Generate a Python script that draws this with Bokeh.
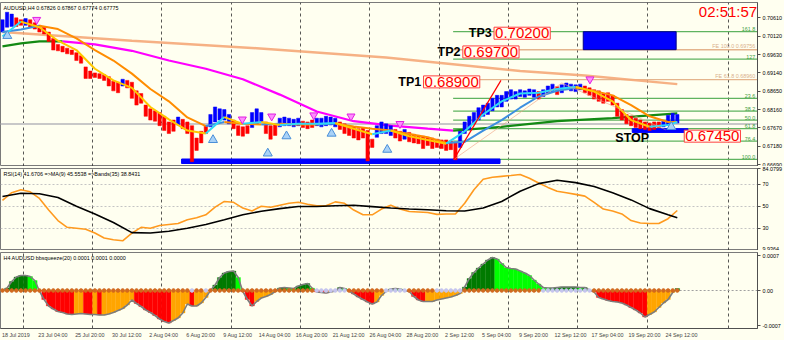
from bokeh.plotting import figure
from bokeh.models import Range1d, FixedTicker, Label, Span, Grid, CustomJSTickFormatter
from bokeh.layouts import column
from bokeh.embed import file_html
from bokeh.resources import INLINE
from bokeh.core.properties import value

BG = "#FFFFF0"
FONT = "Liberation Sans"
FS = "5.4px"

# ---------------- data (x = H4 bar index, 0 = 18 Jul 2019) ----------------
BAR_X = list(range(0, 293, 2))
HI = [0.7056, 0.7076, 0.7071, 0.7061, 0.7056, 0.7059, 0.7056, 0.7048, 0.7041, 0.7036,
      0.7023, 0.7006, 0.6990, 0.6985, 0.6980, 0.6975, 0.6968, 0.6960, 0.6930, 0.6919,
      0.6914, 0.6912, 0.6909, 0.6904, 0.6892, 0.6889, 0.6897, 0.6894, 0.6889, 0.6866,
      0.6859, 0.6828, 0.6818, 0.6813, 0.6808, 0.6798, 0.6783, 0.6788, 0.6796, 0.6790,
      0.6783, 0.6773, 0.6740, 0.6758, 0.6773, 0.6803, 0.6823, 0.6818, 0.6816, 0.6803,
      0.6788, 0.6773, 0.6770, 0.6773, 0.6808, 0.6818, 0.6808, 0.6783, 0.6773, 0.6778,
      0.6793, 0.6796, 0.6793, 0.6790, 0.6793, 0.6785, 0.6783, 0.6788, 0.6793, 0.6793,
      0.6798, 0.6796, 0.6793, 0.6783, 0.6778, 0.6773, 0.6770, 0.6765, 0.6768, 0.6760,
      0.6737, 0.6773, 0.6783, 0.6778, 0.6773, 0.6763, 0.6758, 0.6763, 0.6755, 0.6750,
      0.6747, 0.6745, 0.6742, 0.6740, 0.6737, 0.6735, 0.6735, 0.6732, 0.6727, 0.6758,
      0.6783, 0.6798, 0.6808, 0.6821, 0.6828, 0.6833, 0.6846, 0.6854, 0.6854, 0.6864,
      0.6869, 0.6864, 0.6869, 0.6866, 0.6871, 0.6869, 0.6864, 0.6869, 0.6879, 0.6884,
      0.6877, 0.6882, 0.6887, 0.6884, 0.6882, 0.6884, 0.6879, 0.6874, 0.6869, 0.6866,
      0.6859, 0.6861, 0.6854, 0.6833, 0.6816, 0.6803, 0.6798, 0.6793, 0.6788, 0.6783,
      0.6780, 0.6783, 0.6783, 0.6785, 0.6801, 0.6806, 0.6803]
LO = [0.7023, 0.7036, 0.7038, 0.7038, 0.7041, 0.7041, 0.7036, 0.7031, 0.7023, 0.7018,
      0.6998, 0.6975, 0.6973, 0.6970, 0.6965, 0.6963, 0.6947, 0.6940, 0.6899, 0.6899,
      0.6902, 0.6899, 0.6894, 0.6879, 0.6866, 0.6861, 0.6879, 0.6874, 0.6846, 0.6828,
      0.6833, 0.6798, 0.6788, 0.6785, 0.6773, 0.6760, 0.6752, 0.6758, 0.6775, 0.6765,
      0.6752, 0.6677, 0.6707, 0.6727, 0.6752, 0.6770, 0.6783, 0.6788, 0.6788, 0.6778,
      0.6765, 0.6747, 0.6745, 0.6752, 0.6768, 0.6778, 0.6783, 0.6752, 0.6737, 0.6747,
      0.6770, 0.6773, 0.6773, 0.6770, 0.6773, 0.6768, 0.6765, 0.6768, 0.6773, 0.6770,
      0.6773, 0.6775, 0.6770, 0.6763, 0.6752, 0.6747, 0.6740, 0.6735, 0.6740, 0.6679,
      0.6715, 0.6742, 0.6752, 0.6752, 0.6747, 0.6740, 0.6732, 0.6737, 0.6730, 0.6727,
      0.6725, 0.6712, 0.6720, 0.6712, 0.6715, 0.6712, 0.6707, 0.6709, 0.6682, 0.6715,
      0.6752, 0.6763, 0.6778, 0.6788, 0.6798, 0.6803, 0.6813, 0.6823, 0.6823, 0.6838,
      0.6844, 0.6844, 0.6851, 0.6849, 0.6854, 0.6849, 0.6844, 0.6851, 0.6859, 0.6864,
      0.6856, 0.6861, 0.6869, 0.6866, 0.6864, 0.6869, 0.6861, 0.6854, 0.6844, 0.6838,
      0.6833, 0.6838, 0.6828, 0.6798, 0.6788, 0.6778, 0.6773, 0.6768, 0.6765, 0.6763,
      0.6760, 0.6763, 0.6768, 0.6770, 0.6775, 0.6783, 0.6780]
# B = up-trend bar (blue), R = down-trend bar (red)
BAR_DIR = ("BBBRRBRRRR" "RRRRRRRRRR" "RRRRRRBRRR" "RRRRRRRRBR" "RRRRRBBBBB"
           "RRRRBBBRRR" "BBBBBRRRBB" "BBBRRRRRRR" "RBBBBRRBRR" "RRRRRRRRRB"
           "BBBBBBBBBB" "BBBBBBRBBB" "RBBBBBRRRR" "RRRRRRRRRR" "RRRBBBB")

MA_X = list(range(0, 289, 8)) + [292]
# fast MA (cyan rising / yellow falling), slow MA (blue rising / orange falling)
MA_FAST = [0.7011, 0.7051, 0.7036, 0.7000, 0.6975, 0.6925, 0.6894, 0.6874, 0.6823, 0.6790,
           0.6760, 0.6752, 0.6796, 0.6778, 0.6783, 0.6775, 0.6778, 0.6778, 0.6780, 0.6765,
           0.6750, 0.6760, 0.6745, 0.6735, 0.6725, 0.6758, 0.6803, 0.6838, 0.6859, 0.6861,
           0.6871, 0.6877, 0.6864, 0.6838, 0.6788, 0.6770, 0.6775, 0.6783]
MA_SLOW = [0.7023, 0.7030, 0.7040, 0.7031, 0.7006, 0.6975, 0.6947, 0.6912, 0.6871, 0.6838,
           0.6795, 0.6772, 0.6783, 0.6778, 0.6776, 0.6778, 0.6776, 0.6776, 0.6779, 0.6771,
           0.6765, 0.6760, 0.6751, 0.6742, 0.6727, 0.6730, 0.6760, 0.6788, 0.6821, 0.6851,
           0.6866, 0.6874, 0.6866, 0.6854, 0.6828, 0.6798, 0.6783, 0.6783]
LMA_X = [0, 8, 16, 26, 40, 56, 72, 88, 104, 120, 136, 152, 168, 184, 195, 216, 240, 264, 292]
LMA_Y = [0.6985, 0.6993, 0.6998, 0.6998, 0.6990, 0.6973, 0.6947, 0.6925, 0.6897, 0.6856,
         0.6811, 0.6785, 0.6773, 0.6765, 0.6760, 0.6770, 0.6785, 0.6793, 0.6806]
SMA_X = [0, 56, 110, 166, 224, 252, 292]
SMA_Y = [0.7023, 0.7000, 0.6980, 0.6955, 0.6919, 0.6907, 0.6884]

BUY_X = [2.1, 91.1, 114.8, 122.9, 142.4, 166.5, 289.4]
BUY_Y = [0.7013, 0.6735, 0.6699, 0.6745, 0.6752, 0.6709, 0.6770]
SELL_X = [14.8, 103.8, 116.5, 134.7, 150.8, 172.0, 254.2]
SELL_Y = [0.7056, 0.6790, 0.6798, 0.6801, 0.6798, 0.6778, 0.6897]

FIB_START = 195
FIB_LEVELS = [0.7024, 0.6951, 0.6846, 0.6812, 0.6788, 0.6765, 0.6732, 0.6683]
FIB_TEXT = ["161.8", "127", "23.6", "38.2", "50.0", "61.8", "76.4", "100.0"]
FE_LEVELS = [0.6976, 0.6896]
FE_TEXT = ["FE 100.0 0.69756", "FE 61.8 0.68960"]

TP_NAMES = ["TP1", "TP2", "TP3"]
TP_PRICES = [0.68900, 0.69700, 0.70200]
TP_X = [182.2, 199.2, 212.7]
STOP_PRICE = 0.67450
STOP_X = 295.0
LAST_PRICE = 0.67775
CLOCK = "02:51:57"

TARGET_BOX = dict(left=251.3, right=291.5, bottom=0.6976, top=0.7024)
ZONE_BOXES = dict(left=[77.5, 272.5], right=[215.3, 296.6], bottom=[0.6672, 0.6755], top=[0.6684, 0.6765])
TREND_X = [195.3, 215.7]
TREND_Y = [0.6683, 0.6894]
ZZ_X = [195.3, 242.0, 287.0]
ZZ_Y = [0.6683, 0.6887, 0.6762]

PRICE_TICKS = [0.66690, 0.67180, 0.67670, 0.68160, 0.68650, 0.69140, 0.69630, 0.70120, 0.70610]
PRICE_LABELS = ["0.66690", "0.67180", "0.67670", "0.68160", "0.68650", "0.69140", "0.69630", "0.70120", "0.70610"]

RSI_X = list(range(0, 293, 4))
RSI = [55.2, 62.2, 64.8, 63.0, 57.0, 46.5, 37.0, 30.9, 30.0, 29.1,
       25.7, 21.3, 19.6, 18.7, 25.7, 30.9, 30.0, 32.6, 33.5, 34.3,
       37.8, 39.6, 42.2, 49.1, 54.3, 53.5, 48.3, 45.7, 50.0, 49.1,
       50.9, 52.6, 53.5, 51.7, 50.3, 50.3, 53.9, 52.6, 46.5, 42.2,
       42.2, 47.4, 50.9, 47.4, 45.2, 44.8, 44.3, 42.6, 43.0, 43.0,
       52.6, 64.8, 74.3, 76.1, 77.0, 77.8, 78.7, 75.2, 70.9, 67.0,
       63.5, 62.2, 60.7, 59.1, 53.5, 47.4, 45.7, 43.0, 37.0, 34.8,
       34.3, 34.3, 38.7, 46.1]
RSI_MA = [58.7, 61.7, 61.3, 57.8, 50.0, 43.0, 35.2, 26.1, 25.7, 27.4,
          30.0, 33.5, 37.8, 42.2, 45.4, 47.8, 49.7, 49.7, 50.4, 50.9,
          49.6, 48.3, 47.4, 46.8, 45.9, 45.7, 48.3, 54.3, 63.5, 70.4,
          73.5, 71.3, 67.8, 62.2, 55.7, 47.8, 42.2, 39.6]
RSI_MIN, RSI_MAX = 9.9364, 84.0799
RSI_TICKS = [9.9364, 30, 50, 70, 84.0799]
RSI_LABELS = ["9.9364", "30", "50", "70", "84.0799"]

# bbsqueeze histogram, units of 1e-5
SQZ_E5 = [-1, 5, 18, 27, 30, 30, 28, 20, -1, -18,
          -31, -37, -42, -44, -47, -48, -47, -46, -47, -48,
          -48, -49, -49, -47, -44, -40, -36, -29, -19, -26,
          -32, -39, -44, -50, -57, -62, -65, -60, -55, -45,
          -27, -31, -31, -25, -14, 0, 11, 26, 35, 38,
          39, 26, -2, -18, -31, -22, -15, -12, -8, -2,
          5, 6, 5, 4, 9, 12, 14, 5, -3, -4,
          -5, -3, -1, 6, 4, -1, -7, -13, -18, -23,
          -27, -23, -10, -2, 3, 4, 3, 0, -2, -12,
          -19, -22, -22, -22, -19, -17, -15, -13, -10, -6,
          7, 24, 36, 45, 53, 61, 66, 63, 54, 46,
          44, 43, 39, 35, 30, 21, 13, 6, 5, 5,
          6, 7, 7, 7, 7, 6, 6, 1, -3, -14,
          -17, -20, -22, -23, -25, -29, -34, -39, -45, -53,
          -48, -43, -34, -25, -18, -4, 4]
# o = squeeze on (orange dot), l = off (lavender dot)
SQZ_FLAG = "o" * 41 + "l" + "oo" + "l" + "o" * 23 + "l" * 7 + "o" * 8 + "l" * 5 + "o" * 6 + "l" * 6 + "o" * 17 + "l" * 11 + "o" * 19
SQZ_TICKS = [-0.0007, 0.0, 0.0007]
SQZ_LABELS = ["-0.0007", "0.00", "0.0007"]

TIME_IDX = list(range(0, 289, 16))
TIME_LABELS = ["18 Jul 2019", "23 Jul 04:00", "25 Jul 20:00", "30 Jul 12:00", "2 Aug 04:00",
               "6 Aug 20:00", "9 Aug 12:00", "14 Aug 04:00", "16 Aug 20:00", "21 Aug 12:00",
               "26 Aug 04:00", "28 Aug 20:00", "2 Sep 12:00", "5 Sep 04:00", "9 Sep 20:00",
               "12 Sep 12:00", "17 Sep 04:00", "19 Sep 20:00", "24 Sep 12:00"]
VGRID = [9, 39, 69, 99, 129, 159, 189, 219, 249, 279, 314]

HEAD_PRICE = "AUDUSD,H4  0.67826 0.67867 0.67774 0.67775"
HEAD_RSI = "RSI(14) 41.6706   =>MA(9) 45.5538   =>Bands(35) 38.8431"
HEAD_SQZ = "H4 AUDUSD bbsqueeze(20) 0.0001 0.0001 0.0000"

for arr in (HI, LO, SQZ_E5):
    assert len(arr) == len(BAR_X), len(arr)
assert len(BAR_DIR) == len(BAR_X) and len(SQZ_FLAG) == len(BAR_X)
for arr in (MA_FAST, MA_SLOW, RSI_MA):
    assert len(arr) == len(MA_X), len(arr)
assert len(RSI) == len(RSI_X)

X0, X1 = -0.85, 326.7
FRAME_W = 757

LOOKUP = """
let best = 0, bd = Infinity;
for (let i = 0; i < vals.length; i++) { const d = Math.abs(vals[i] - tick); if (d < bd) { bd = d; best = i; } }
return labs[best];
"""


def make_fig(fh, yr, top, xaxis=False):
    p = figure(frame_width=FRAME_W, frame_height=fh, x_range=Range1d(X0, X1), y_range=yr,
               output_backend="svg", toolbar_location=None,
               x_axis_location="below" if xaxis else None, y_axis_location="right",
               min_border_left=0, min_border_right=0, min_border_top=top, min_border_bottom=0,
               background_fill_color=BG, border_fill_color=BG,
               outline_line_color="#7a7a7a", outline_line_width=1)
    for g in p.grid:
        g.visible = False
    p.add_layout(Grid(dimension=0, ticker=FixedTicker(ticks=VGRID), grid_line_color="#3a3a3a",
                      grid_line_dash="3 3", grid_line_width=1, grid_line_alpha=0.85))
    return p


def style_yaxis(p, ticks, labels):
    ax = p.yaxis[0]
    ax.ticker = FixedTicker(ticks=ticks)
    ax.formatter = CustomJSTickFormatter(args=dict(vals=ticks, labs=labels), code=LOOKUP)
    ax.major_label_text_font_size = FS
    ax.major_label_text_font = FONT
    ax.major_label_text_color = "#000000"
    ax.major_tick_out = 3
    ax.major_tick_in = 0
    ax.minor_tick_out = 0
    ax.minor_tick_in = 0
    ax.major_label_standoff = 2
    ax.axis_line_color = "#505050"
    ax.major_tick_line_color = "#505050"


def header(p, text, y):
    p.add_layout(Label(x=X0, y=y, x_offset=3, y_offset=-2, text=text, text_baseline="top",
                       text_align="left", text_font=FONT, text_font_size=FS, text_color="#000000"))


def slope_runs(xs, ys, up_color, down_color):
    runs = []
    cur_x, cur_y, cur_c = [xs[0]], [ys[0]], None
    for i in range(1, len(xs)):
        if ys[i] > ys[i - 1]:
            c = up_color
        elif ys[i] < ys[i - 1]:
            c = down_color
        else:
            c = cur_c or up_color
        if cur_c is None or c == cur_c:
            cur_x.append(xs[i]); cur_y.append(ys[i]); cur_c = c
        else:
            runs.append((cur_x, cur_y, cur_c))
            cur_x, cur_y, cur_c = [xs[i - 1], xs[i]], [ys[i - 1], ys[i]], c
    runs.append((cur_x, cur_y, cur_c))
    return dict(xs=[r[0] for r in runs], ys=[r[1] for r in runs], line_color=[r[2] for r in runs])


# ---------------- price panel ----------------
p1 = make_fig(164, Range1d(0.6664, 0.7102), top=2)
style_yaxis(p1, PRICE_TICKS, PRICE_LABELS)

p1.segment(x0=[FIB_START] * len(FIB_LEVELS), x1=[X1] * len(FIB_LEVELS), y0=FIB_LEVELS, y1=FIB_LEVELS,
           line_color="#5fb35f", line_width=1.2)
p1.segment(x0=[FIB_START] * len(FE_LEVELS), x1=[X1] * len(FE_LEVELS), y0=FE_LEVELS, y1=FE_LEVELS,
           line_color="#e4b48c", line_width=1.4)
p1.quad(left=[TARGET_BOX["left"]], right=[TARGET_BOX["right"]], bottom=[TARGET_BOX["bottom"]],
        top=[TARGET_BOX["top"]], fill_color="#0000FF", line_color="#00008b")
p1.quad(left=ZONE_BOXES["left"], right=ZONE_BOXES["right"], bottom=ZONE_BOXES["bottom"],
        top=ZONE_BOXES["top"], fill_color="#0000FF", line_color="#0000FF")

p1.line(SMA_X, SMA_Y, line_color="#F5A878", line_width=2.5, line_alpha=0.9)
p1.multi_line(line_width=2.2, **slope_runs(LMA_X, LMA_Y, "#138a13", "#FF00FF"))

p1.add_layout(Span(location=LAST_PRICE, dimension="width", line_color="#c8c8c8", line_width=2, level="underlay"))

bar_colors = ["#0000FF" if d == "B" else "#FF0000" for d in BAR_DIR]
p1.vbar(x=BAR_X, bottom=LO, top=HI, width=1.45, fill_color=bar_colors, line_color=bar_colors, line_width=0.5)

p1.multi_line(line_width=2, **slope_runs(MA_X, MA_SLOW, "#3d8fe0", "#FF8C00"))
p1.multi_line(line_width=2, **slope_runs(MA_X, MA_FAST, "#2fd8f5", "#FFC800"))

p1.line(ZZ_X, ZZ_Y, line_color="#f0a080", line_width=1, line_alpha=0.6)
p1.line(TREND_X, TREND_Y, line_color="#FF0000", line_width=1.2)

p1.scatter(BUY_X, BUY_Y, marker="triangle", size=9, fill_color="#a9d2f7", line_color="#4a8fd8", line_width=1)
p1.scatter(SELL_X, SELL_Y, marker="inverted_triangle", size=8, fill_color="#ff8cff", line_color="#e020e0", line_width=1)

p1.text(x=[X1 - 1.0] * len(FIB_LEVELS), y=FIB_LEVELS, text=FIB_TEXT, text_align="right", text_baseline="bottom",
        text_font=value(FONT), text_font_size=FS, text_color="#3e9e3e", y_offset=-0.5)
p1.text(x=[X1 - 1.0] * len(FE_LEVELS), y=FE_LEVELS, text=FE_TEXT, text_align="right", text_baseline="bottom",
        text_font=value(FONT), text_font_size=FS, text_color="#d9b08c", y_offset=-0.5)

for name, price, bx in zip(TP_NAMES, TP_PRICES, TP_X):
    p1.add_layout(Label(x=bx - 1.0, y=price, text=name, text_align="right", text_baseline="middle",
                        text_font=FONT, text_font_size="12.5px", text_font_style="bold", text_color="#000000"))
    p1.add_layout(Label(x=bx, y=price, text=f"{price:.5f}", text_align="left", text_baseline="middle",
                        text_font=FONT, text_font_size="15px", text_color="#FF0000",
                        border_line_color="#FF4040", border_line_width=1, background_fill_color=BG,
                        padding=1))
p1.add_layout(Label(x=272.5, y=STOP_PRICE, y_offset=-2, text="STOP", text_align="center", text_baseline="middle",
                    text_font=FONT, text_font_size="12.5px", text_font_style="bold", text_color="#000000"))
p1.add_layout(Label(x=STOP_X, y=STOP_PRICE, text=f"{STOP_PRICE:.5f}", text_align="left", text_baseline="middle",
                    text_font=FONT, text_font_size="15px", text_color="#FF0000",
                    border_line_color="#FF4040", border_line_width=1, background_fill_color=BG, padding=1))
p1.add_layout(Label(x=301.3, y=0.7079, text=CLOCK, text_align="left", text_baseline="middle",
                    text_font=FONT, text_font_size="15px", text_color="#FF0000"))
header(p1, HEAD_PRICE, 0.7102)

# ---------------- RSI panel ----------------
p2 = make_fig(82, Range1d(RSI_MIN, RSI_MAX), top=2)
style_yaxis(p2, RSI_TICKS, RSI_LABELS)
p2.add_layout(Grid(dimension=1, ticker=FixedTicker(ticks=[30, 50, 70]), grid_line_color="#c4c4c4",
                   grid_line_dash="2 2", grid_line_width=1))
p2.line(RSI_X, RSI, line_color="#FF9A1F", line_width=1.6)
p2.line(MA_X, RSI_MA, line_color="#000000", line_width=1.6)
header(p2, HEAD_RSI, RSI_MAX)

# ---------------- bbsqueeze panel ----------------
p3 = make_fig(76, Range1d(-0.00076, 0.00076), top=2, xaxis=True)
style_yaxis(p3, SQZ_TICKS, SQZ_LABELS)
sqz = [v * 1e-5 for v in SQZ_E5]
hcol = []
for i, v in enumerate(sqz):
    prev = sqz[i - 1] if i > 0 else v
    if v >= 0:
        hcol.append("#007a00" if v >= prev else "#00FF00")
    else:
        hcol.append("#FF0000" if v < prev else "#FFA500")
p3.segment(x0=[BAR_X[-1] + 1], x1=[X1], y0=[0], y1=[0], line_color="#a0a0a0", line_dash="2 2")
p3.vbar(x=BAR_X, bottom=0, top=sqz, width=2.0, fill_color=hcol, line_color=hcol, line_width=0.3)
p3.line(BAR_X, sqz, line_color="#7d7d7d", line_width=1.6)
dot_col = ["#D2691E" if f == "o" else "#c5c5ee" for f in SQZ_FLAG]
p3.scatter(BAR_X, [0] * len(BAR_X), marker="circle", size=3.6, fill_color=dot_col, line_color=dot_col)
header(p3, HEAD_SQZ, 0.00076)

xa = p3.xaxis[0]
label_pos = [t + 5.8 for t in TIME_IDX]
xa.ticker = FixedTicker(ticks=label_pos)
xa.formatter = CustomJSTickFormatter(args=dict(vals=label_pos, labs=TIME_LABELS), code=LOOKUP)
xa.major_label_text_font_size = FS
xa.major_label_text_font = FONT
xa.major_tick_out = 0
xa.major_tick_in = 0
xa.minor_tick_out = 0
xa.minor_tick_in = 0
xa.major_label_standoff = 3
xa.axis_line_color = "#505050"

layout = column(p1, p2, p3, spacing=0, background=BG)
open("out.html", "w").write(file_html(layout, INLINE))
